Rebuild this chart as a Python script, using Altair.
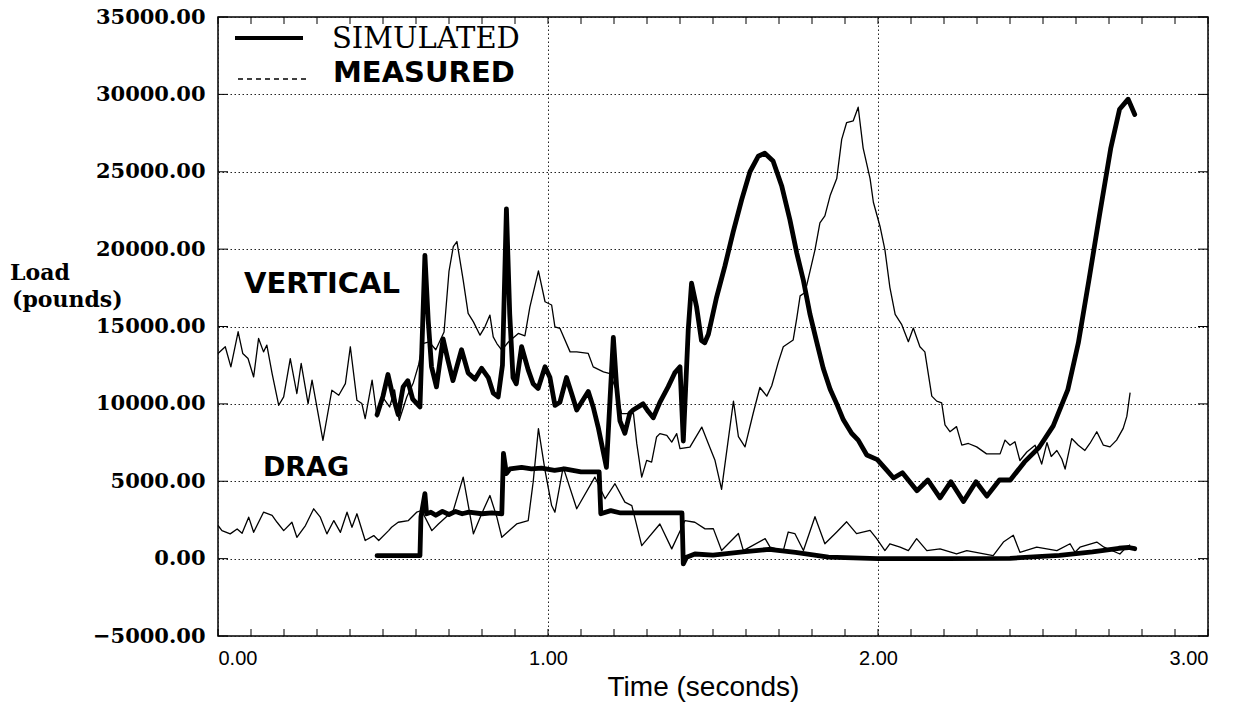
import altair as alt
import pandas as pd

# ---------------- data (time in s, load in pounds) ----------------
measured_vertical = [
    (0.000, 13260), (0.022, 13690), (0.039, 12390), (0.061, 14660), (0.075, 13260),
    (0.091, 12930), (0.108, 11740), (0.123, 14230), (0.138, 13360), (0.148, 13800),
    (0.164, 11960), (0.184, 9910), (0.199, 10450), (0.219, 12930), (0.239, 10670),
    (0.252, 12610), (0.273, 10020), (0.285, 11530), (0.318, 7640), (0.345, 10880),
    (0.366, 10560), (0.386, 11310), (0.401, 13690), (0.421, 10230), (0.436, 10020),
    (0.446, 9050), (0.467, 11530), (0.482, 9150), (0.500, 10400), (0.520, 9800),
    (0.535, 10900), (0.549, 8930), (0.572, 10440), (0.592, 11370), (0.608, 12530),
    (0.620, 13900), (0.640, 14000), (0.660, 13500), (0.685, 14640), (0.700, 18570),
    (0.713, 20160), (0.724, 20490), (0.743, 18000), (0.758, 15850), (0.774, 15300),
    (0.794, 14440), (0.809, 14980), (0.824, 15740), (0.834, 14330), (0.845, 13900),
    (0.860, 13470), (0.880, 14000), (0.910, 14550), (0.930, 14400), (0.945, 16250),
    (0.971, 18600), (0.991, 16600), (1.011, 16390), (1.021, 14980), (1.036, 14880),
    (1.067, 13360), (1.087, 13360), (1.122, 13260), (1.137, 12390), (1.168, 12070),
    (1.188, 11960), (1.205, 11000), (1.223, 9370), (1.259, 9370), (1.269, 7430),
    (1.284, 5270), (1.299, 6350), (1.314, 6240), (1.329, 7860), (1.339, 8080),
    (1.360, 7970), (1.375, 7530), (1.390, 8080), (1.400, 7110), (1.430, 7210),
    (1.466, 8500), (1.486, 7430), (1.506, 6350), (1.526, 4470), (1.562, 10180),
    (1.577, 7880), (1.597, 7220), (1.622, 9410), (1.642, 11060), (1.663, 10500),
    (1.678, 11170), (1.698, 12700), (1.713, 13690), (1.743, 14130), (1.754, 15560),
    (1.764, 16980), (1.779, 17200), (1.809, 19950), (1.824, 21700), (1.839, 22150),
    (1.855, 23460), (1.875, 24560), (1.890, 27090), (1.905, 28180), (1.925, 28290),
    (1.940, 29170), (1.955, 26530), (1.976, 24560), (1.986, 23030), (2.006, 21480),
    (2.021, 19950), (2.036, 17530), (2.052, 15780), (2.072, 15120), (2.092, 14020),
    (2.107, 14900), (2.127, 13690), (2.142, 13360), (2.163, 10500), (2.178, 10180),
    (2.193, 10070), (2.203, 8640), (2.218, 8200), (2.238, 8530), (2.254, 7330),
    (2.274, 7440), (2.299, 7220), (2.329, 6770), (2.370, 6770), (2.385, 7660),
    (2.400, 7330), (2.415, 7550), (2.430, 6340), (2.451, 6890), (2.476, 7330),
    (2.496, 6110), (2.512, 7500), (2.525, 6600), (2.542, 6990), (2.557, 6440),
    (2.567, 5790), (2.587, 7760), (2.607, 7330), (2.627, 6990), (2.642, 7440),
    (2.663, 8200), (2.683, 7330), (2.703, 7220), (2.723, 7660), (2.743, 8420),
    (2.754, 9190), (2.764, 10730),
]

measured_drag = [
    (0.000, 2140), (0.012, 1810), (0.037, 1600), (0.058, 1920), (0.073, 1640),
    (0.093, 2680), (0.108, 1700), (0.138, 3000), (0.164, 2790), (0.179, 2350),
    (0.199, 1810), (0.224, 2350), (0.239, 1380), (0.265, 2140), (0.290, 3220),
    (0.310, 2680), (0.330, 1600), (0.351, 2460), (0.371, 1700), (0.391, 3000),
    (0.406, 2030), (0.421, 2900), (0.446, 1170), (0.472, 1490), (0.487, 1170),
    (0.517, 1810), (0.526, 2030), (0.546, 2350), (0.577, 2460), (0.602, 3000),
    (0.617, 3110), (0.648, 1810), (0.668, 2240), (0.713, 3110), (0.743, 5270),
    (0.774, 1600), (0.799, 2900), (0.824, 4080), (0.845, 2680), (0.860, 1380),
    (0.905, 2240), (0.940, 2460), (0.955, 4940), (0.971, 8400), (0.991, 5700),
    (1.011, 3430), (1.021, 3000), (1.046, 5910), (1.087, 3220), (1.142, 5270),
    (1.173, 3870), (1.203, 4840), (1.233, 3650), (1.254, 3430), (1.284, 840),
    (1.339, 2240), (1.375, 630), (1.415, 2460), (1.445, 2350), (1.476, 1920),
    (1.501, 1940), (1.526, 520), (1.577, 1620), (1.592, 520), (1.658, 1290),
    (1.673, 740), (1.713, 520), (1.728, 1720), (1.748, 1620), (1.774, 520),
    (1.809, 2710), (1.839, 960), (1.875, 1720), (1.905, 2380), (1.935, 1620),
    (1.976, 1830), (1.996, 1290), (2.021, 520), (2.036, 960), (2.067, 740),
    (2.092, 520), (2.117, 1290), (2.148, 520), (2.188, 630), (2.238, 300),
    (2.269, 520), (2.349, 190), (2.380, 1070), (2.410, 1510), (2.430, 410),
    (2.481, 740), (2.542, 520), (2.582, 960), (2.597, 410), (2.612, 740),
    (2.663, 1070), (2.685, 740), (2.733, 300), (2.748, 630), (2.764, 900),
]

simulated_vertical = [
    (0.482, 9300), (0.500, 10500), (0.515, 11900), (0.530, 10500), (0.546, 9300),
    (0.561, 11100), (0.575, 11500), (0.590, 10300), (0.612, 9800), (0.627, 19600),
    (0.637, 15400), (0.647, 12400), (0.662, 11100), (0.682, 14200), (0.697, 12800),
    (0.712, 11500), (0.738, 13500), (0.758, 12000), (0.779, 11600), (0.799, 12300),
    (0.819, 11700), (0.834, 10700), (0.849, 10450), (0.862, 12500), (0.874, 22600),
    (0.884, 15800), (0.894, 11700), (0.904, 11300), (0.920, 13700), (0.940, 12200),
    (0.955, 11300), (0.970, 11000), (0.991, 12400), (1.006, 11700), (1.021, 9900),
    (1.036, 10100), (1.056, 11700), (1.071, 10700), (1.087, 9600), (1.122, 10800),
    (1.137, 9800), (1.152, 8500), (1.177, 5900), (1.198, 14300), (1.208, 11100),
    (1.218, 8900), (1.233, 8100), (1.248, 9400), (1.258, 9600), (1.288, 10000),
    (1.304, 9500), (1.319, 9100), (1.339, 10100), (1.364, 11100), (1.384, 12000),
    (1.400, 12400), (1.410, 7600), (1.425, 14800), (1.435, 17800), (1.450, 16300),
    (1.465, 14100), (1.475, 13950), (1.486, 14500), (1.511, 16900), (1.536, 18900),
    (1.561, 21100), (1.587, 23200), (1.612, 25000), (1.637, 26000), (1.657, 26200),
    (1.682, 25700), (1.708, 24100), (1.733, 21900), (1.754, 19730), (1.774, 17970),
    (1.794, 15780), (1.814, 14020), (1.834, 12300), (1.855, 10950), (1.875, 10000),
    (1.895, 8970), (1.920, 8100), (1.940, 7660), (1.966, 6700), (1.998, 6400),
    (2.027, 5700), (2.047, 5210), (2.074, 5550), (2.118, 4390), (2.151, 5080),
    (2.188, 3930), (2.221, 4970), (2.259, 3690), (2.297, 4970), (2.330, 4040),
    (2.368, 5080), (2.401, 5080), (2.444, 6250), (2.488, 7180), (2.531, 8580),
    (2.575, 10900), (2.607, 13930), (2.640, 18110), (2.672, 22290), (2.705, 26480),
    (2.732, 29040), (2.758, 29690), (2.778, 28700),
]

simulated_drag = [
    (0.482, 190), (0.612, 190), (0.615, 2700), (0.627, 4200), (0.632, 2900),
    (0.645, 3000), (0.660, 2800), (0.680, 3050), (0.700, 2850), (0.720, 3050),
    (0.740, 2900), (0.760, 3000), (0.800, 2900), (0.830, 2950), (0.860, 2900),
    (0.865, 6800), (0.874, 5500), (0.885, 5800), (0.920, 5900), (0.950, 5800),
    (0.980, 5850), (1.020, 5700), (1.050, 5800), (1.100, 5600), (1.155, 5600),
    (1.160, 2900), (1.190, 3100), (1.220, 2950), (1.300, 2950), (1.406, 2950),
    (1.410, -340), (1.420, 90), (1.445, 300), (1.500, 230), (1.590, 440),
    (1.670, 600), (1.750, 400), (1.850, 100), (2.000, 0), (2.200, 0),
    (2.400, 20), (2.550, 210), (2.650, 440), (2.730, 670), (2.760, 720),
    (2.778, 640),
]

x_ticks = [i / 10 for i in range(31)]
y_ticks = list(range(-5000, 35001, 5000))

# ---------------- layout ----------------
W, H = 990, 619
xs = alt.Scale(domain=[0, 3], nice=False, zero=False)
ys = alt.Scale(domain=[-5000, 35000], nice=False, zero=False)


def frame(points, name):
    return pd.DataFrame({"t": [p[0] for p in points],
                         "v": [p[1] for p in points],
                         "series": name})


measured = pd.concat([frame(measured_vertical, "mv"), frame(measured_drag, "md")])
simulated = pd.concat([frame(simulated_vertical, "sv"), frame(simulated_drag, "sd")])

x_axis = alt.Axis(values=[0, 1, 2, 3], format=".2f", grid=True, gridDash=[1.5, 2.5],
                  gridColor="#222222", gridWidth=1, ticks=False, domain=False,
                  labelFont="Liberation Sans", labelFontSize=20, labelColor="black",
                  labelPadding=12, title="Time (seconds)", titleFont="Liberation Sans",
                  titleFontSize=28, titleFontWeight="normal", titleColor="black",
                  titlePadding=5, titleX=485, titleAlign="center")
y_axis = alt.Axis(values=y_ticks, format=".2f", grid=True, gridDash=[1.5, 2.5],
                  gridColor="#222222", gridWidth=1, ticks=False, domain=False,
                  labelFont="DejaVu Serif", labelFontWeight="bold", labelFontSize=21,
                  labelColor="black", labelPadding=13, title=None)

measured_layer = alt.Chart(measured).mark_line(
    color="black", strokeWidth=1.3, strokeJoin="round"
).encode(
    x=alt.X("t:Q", scale=xs, axis=x_axis),
    y=alt.Y("v:Q", scale=ys, axis=y_axis),
    detail="series:N",
)

simulated_layer = alt.Chart(simulated).mark_line(
    color="black", strokeWidth=4.8, strokeJoin="round", strokeCap="round"
).encode(
    x=alt.X("t:Q", scale=xs),
    y=alt.Y("v:Q", scale=ys),
    detail="series:N",
)

xt = pd.DataFrame({"t": x_ticks})
yt = pd.DataFrame({"v": y_ticks})
tick_bottom = alt.Chart(xt).mark_rule(color="black", strokeWidth=1).encode(
    x=alt.X("t:Q", scale=xs), y=alt.value(H), y2=alt.value(H - 7))
tick_top = alt.Chart(xt).mark_rule(color="black", strokeWidth=1).encode(
    x=alt.X("t:Q", scale=xs), y=alt.value(0), y2=alt.value(7))
tick_left = alt.Chart(yt).mark_rule(color="black", strokeWidth=1).encode(
    y=alt.Y("v:Q", scale=ys), x=alt.value(0), x2=alt.value(10))
tick_right = alt.Chart(yt).mark_rule(color="black", strokeWidth=1).encode(
    y=alt.Y("v:Q", scale=ys), x=alt.value(W - 10), x2=alt.value(W))


def label(text, x, y, font, size, weight="normal", align="left"):
    return alt.Chart(pd.DataFrame({"s": [text]})).mark_text(
        font=font, fontSize=size, fontWeight=weight, align=align,
        baseline="middle", color="black"
    ).encode(text="s:N", x=alt.value(x), y=alt.value(y))


texts = [
    label("VERTICAL", 104, 267, "DejaVu Sans", 29, "bold", "center"),
    label("DRAG", 88, 451, "DejaVu Sans", 27, "bold", "center"),
    label("SIMULATED", 114, 22, "DejaVu Serif", 29),
    label("MEASURED", 115, 56, "DejaVu Sans", 29, "bold"),
    label("Load", -208, 256, "DejaVu Serif", 22, "bold"),
    label("(pounds)", -206, 283, "DejaVu Serif", 22, "bold"),
]

legend_solid = alt.Chart(pd.DataFrame({"k": [0]})).mark_rule(
    color="black", strokeWidth=4).encode(
    x=alt.value(17), x2=alt.value(85), y=alt.value(21))
legend_dash = alt.Chart(pd.DataFrame({"k": [0]})).mark_rule(
    color="black", strokeWidth=1.3, strokeDash=[5, 4]).encode(
    x=alt.value(20), x2=alt.value(89), y=alt.value(62))

chart = alt.layer(
    measured_layer, simulated_layer, tick_bottom, tick_top, tick_left, tick_right,
    legend_solid, legend_dash, *texts
).properties(
    width=W, height=H,
    padding={"left": 218, "top": 17, "right": 43, "bottom": 69},
    autosize=alt.AutoSizeParams(type="none"),
    background="white",
).configure_view(stroke="black", strokeWidth=1.5)

chart.save("out.html", embed_options={"renderer": "svg", "actions": False})
